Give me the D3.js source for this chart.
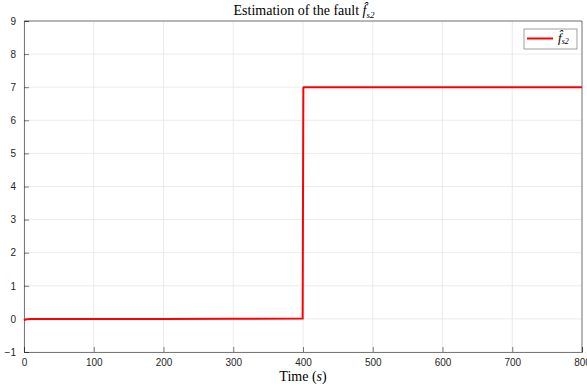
<!DOCTYPE html>
<html><head><meta charset="utf-8">
<script src="https://cdn.jsdelivr.net/npm/d3@7"></script>
<style>body{margin:0;background:#fff}svg{display:block}</style>
</head><body>
<script>
const xTicks = [0,100,200,300,400,500,600,700,800];
const yTicks = [-1,0,1,2,3,4,5,6,7,8,9];
const timeValues = [0, 2, 5, 10, 50, 100, 200, 300, 399.5, 400.5, 401, 450, 500, 600, 700, 800];
const faultValues = [-0.04, -0.02, -0.01, -0.005, 0, 0, 0, 0.005, 0.01, 6.98, 7, 7, 7, 7, 7, 7];
const seriesName = "s2";

const W = 587, H = 387;
const svg = d3.select("body").append("svg").attr("width",W).attr("height",H);
const x = d3.scaleLinear().domain([0,800]).range([24,582]);
const y = d3.scaleLinear().domain([-1,9]).range([352,21]);

// grid
svg.append("g").selectAll("line").data(xTicks).join("line")
  .attr("x1",d=>x(d)).attr("x2",d=>x(d)).attr("y1",y(-1)).attr("y2",y(9))
  .attr("stroke","#e6e6e6").attr("stroke-width",0.8);
svg.append("g").selectAll("line").data(yTicks).join("line")
  .attr("y1",d=>y(d)).attr("y2",d=>y(d)).attr("x1",x(0)).attr("x2",x(800))
  .attr("stroke","#e6e6e6").attr("stroke-width",0.8);

// axes
const xa = svg.append("g").attr("transform",`translate(0,${y(-1)})`)
  .call(d3.axisBottom(x).tickValues(xTicks).tickSize(-5).tickPadding(7).tickFormat(d3.format("d")));
const ya = svg.append("g").attr("transform",`translate(${x(0)},0)`)
  .call(d3.axisLeft(y).tickValues(yTicks).tickSize(-5).tickPadding(8).tickFormat(d3.format("d")));
[xa,ya].forEach(a=>{
  a.select(".domain").attr("stroke","#262626").attr("stroke-opacity",0.6);
  a.selectAll(".tick line").attr("stroke","#262626").attr("stroke-opacity",0.6);
  a.selectAll("text").attr("fill","#262626").style("font-family","Liberation Sans, Arial, sans-serif").style("font-size","10px");
});
// top/right box
svg.append("line").attr("x1",x(0)).attr("x2",x(800)).attr("y1",y(9)).attr("y2",y(9)).attr("stroke","#262626").attr("stroke-opacity",0.6);
svg.append("line").attr("x1",x(800)).attr("x2",x(800)).attr("y1",y(9)).attr("y2",y(-1)).attr("stroke","#262626").attr("stroke-opacity",0.6);

// line
const pts = timeValues.map((t,i)=>[t,faultValues[i]]);
svg.append("path").datum(pts)
  .attr("d",d3.line().x(d=>x(d[0])).y(d=>y(d[1])))
  .attr("fill","none").attr("stroke","#ff0000").attr("stroke-width",2);

// title
const title = svg.append("text").attr("x",304).attr("y",15).attr("text-anchor","middle")
  .style("font-family","Liberation Serif, DejaVu Serif, serif").style("font-size","14px").attr("fill","#000");
title.append("tspan").text("Estimation of the fault ");
title.append("tspan").attr("font-style","italic").text("f\u0302");
title.append("tspan").attr("font-style","italic").attr("font-size","9px").attr("dy",3).text(seriesName);

// xlabel
const xl = svg.append("text").attr("x",303).attr("y",381).attr("text-anchor","middle")
  .style("font-family","Liberation Serif, DejaVu Serif, serif").style("font-size","14px");
xl.append("tspan").text("Time (");
xl.append("tspan").attr("font-style","italic").text("s");
xl.append("tspan").text(")");

// legend
const lg = svg.append("g");
lg.append("rect").attr("x",524).attr("y",29).attr("width",53).attr("height",20)
  .attr("fill","#fff").attr("stroke","#888").attr("stroke-width",0.8);
lg.append("line").attr("x1",527).attr("x2",553).attr("y1",38.5).attr("y2",38.5).attr("stroke","#ff0000").attr("stroke-width",2);
const lt = lg.append("text").attr("x",558).attr("y",42).style("font-family","Liberation Serif, DejaVu Serif, serif").style("font-size","13px");
lt.append("tspan").attr("font-style","italic").text("f\u0302");
lt.append("tspan").attr("font-style","italic").attr("font-size","8px").attr("dy",2).text(seriesName);
</script>
</body></html>
